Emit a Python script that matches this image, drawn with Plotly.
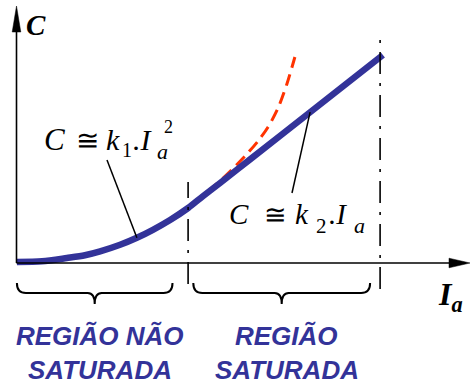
import plotly.graph_objects as go

# Armature current (Ia) vs torque (C) for a series DC motor
ia_real = [0.01, 0.64, 1.26, 1.71, 2.09, 2.59, 3.01, 3.41, 3.84, 4.29, 4.66, 5.09, 5.84, 7.34, 9.16]
c_real = [0.025, 0.043, 0.125, 0.193, 0.29, 0.455, 0.63, 0.83, 1.075, 1.375, 1.67, 2.00, 2.59, 3.77, 5.20]

# Quadratic law continued past saturation (dashed)
ia_quad = [0.01, 1.26, 2.59, 3.41, 4.29, 4.84, 5.14, 5.41, 5.76, 6.04, 6.29, 6.54, 6.76, 6.96]
c_quad = [0.025, 0.125, 0.455, 0.83, 1.375, 1.84, 2.10, 2.36, 2.725, 3.05, 3.40, 3.875, 4.475, 5.15]

# Region limits on the Ia axis and the spans covered by each brace
region_limits = [4.29, 9.09]
brace_spans = [(0.01, 3.90), (4.42, 8.84)]
region_names = [["REGIÃO NÃO", "SATURADA"], ["REGIÃO", "SATURADA"]]

W, H = 470, 384
PX = 40.0           # pixels per unit
X0, Y0 = 16.5, 263  # pixel position of the origin
xr = [-X0 / PX, (W - X0) / PX]
yr = [(Y0 - H) / PX, Y0 / PX]

BLUE = "#333399"
RED = "#FF3300"
SERIF = "Liberation Serif, DejaVu Serif, serif"
SANS = "Liberation Sans, Arial, sans-serif"


def dx(px):
    return (px - X0) / PX


def dy(py):
    return (Y0 - py) / PX


fig = go.Figure()
fig.add_trace(go.Scatter(x=ia_quad, y=c_quad, mode="lines",
                         line=dict(color=RED, width=3, dash="12px,7px", shape="spline", smoothing=0.8),
                         hoverinfo="skip"))
fig.add_trace(go.Scatter(x=ia_real, y=c_real, mode="lines",
                         line=dict(color=BLUE, width=6.5, shape="spline", smoothing=0.8),
                         hoverinfo="skip"))

shapes = []
# axes with arrowheads
shapes.append(dict(type="line", xref="x", yref="y", x0=0, y0=0, x1=dx(452), y1=0,
                   line=dict(color="black", width=1.6)))
shapes.append(dict(type="line", xref="x", yref="y", x0=0, y0=0, x1=0, y1=dy(28),
                   line=dict(color="black", width=1.6)))
shapes.append(dict(type="path", xref="x", yref="y",
                   path=f"M {dx(470)},0 L {dx(449)},{4.8/PX} L {dx(449)},{-4.8/PX} Z",
                   fillcolor="black", line=dict(color="black", width=0.5)))
shapes.append(dict(type="path", xref="x", yref="y",
                   path=f"M 0,{dy(6)} L {4.3/PX},{dy(32)} L {-4.3/PX},{dy(32)} Z",
                   fillcolor="black", line=dict(color="black", width=0.5)))

# region boundaries (dash-dot)
for xl, top, bot in zip(region_limits, [dy(182), dy(37)], [dy(284), dy(289)]):
    shapes.append(dict(type="line", xref="x", yref="y", x0=xl, x1=xl, y0=bot, y1=top,
                       line=dict(color="black", width=1.6, dash="22px,9px,3px,9px")))

# braces under each region
yt, ym, yp = dy(283), dy(293), dy(304)
re, rt = 9 / PX, 7 / PX
for a, b in brace_spans:
    c = (a + b) / 2
    p = (f"M {a},{yt} Q {a},{ym} {a+re},{ym} L {c-rt},{ym} Q {c},{ym} {c},{yp} "
         f"Q {c},{ym} {c+rt},{ym} L {b-re},{ym} Q {b},{ym} {b},{yt}")
    shapes.append(dict(type="path", xref="x", yref="y", path=p,
                       line=dict(color="black", width=2)))

# leader lines from the formulas to the curve
shapes.append(dict(type="line", xref="x", yref="y", x0=dx(107), y0=dy(160),
                   x1=ia_real[6], y1=c_real[6], line=dict(color="black", width=1.5)))
shapes.append(dict(type="line", xref="x", yref="y", x0=dx(292), y0=dy(193),
                   x1=ia_real[13], y1=c_real[13], line=dict(color="black", width=1.5)))

ann = []


def text(x, y, s, size, color="black", family=SERIF, weight="normal", style="italic",
         xanchor="center", yanchor="middle", pad=1):
    ann.append(dict(xref="x", yref="y", x=dx(x), y=dy(y), text=s, showarrow=False,
                    xanchor=xanchor, yanchor=yanchor, borderpad=pad, borderwidth=0,
                    font=dict(size=size, color=color, family=family, weight=weight, style=style)))


def glyph(left, baseline, s, size, style="italic"):
    # place a glyph by its left edge and baseline
    text(left, baseline - 0.34 * size, s, size, style=style, xanchor="left", pad=0)


# axis titles
text(36, 25, "C", 29, weight="bold")
text(450, 296, "I<sub>a</sub>", 32, weight="bold")

# C ≅ k1 . Ia²
for left, base, s, size, st in [
    (44, 150, "C", 31, "italic"), (76, 150, "≅", 28, "normal"), (106, 150, "k", 30, "italic"),
    (122, 157, "1", 20, "normal"), (133, 150, ".I", 30, "italic"),
    (157, 159, "a", 22, "italic"), (164, 133, "2", 18, "normal"),
]:
    glyph(left, base, s, size, st)

# C ≅ k2 . Ia
for left, base, s, size, st in [
    (229, 224, "C", 29, "italic"), (264, 224, "≅", 27, "normal"), (295, 224, "k", 29, "italic"),
    (316, 233, "2", 21, "normal"), (329, 224, ".I", 29, "italic"),
    (354, 233, "a", 22, "italic"),
]:
    glyph(left, base, s, size, st)

# region labels
for (a, b), lines in zip(brace_spans, region_names):
    cx = X0 + (a + b) / 2 * PX + 5
    for line, yy in zip(lines, [336, 370]):
        text(cx, yy, line, 26, color=BLUE, family=SANS, weight="bold")

fig.update_layout(
    width=W, height=H, margin=dict(l=0, r=0, t=0, b=0),
    paper_bgcolor="white", plot_bgcolor="white", showlegend=False,
    xaxis=dict(range=xr, visible=False, fixedrange=True),
    yaxis=dict(range=yr, visible=False, fixedrange=True),
    shapes=shapes, annotations=ann,
)
fig.write_html("out.html")
